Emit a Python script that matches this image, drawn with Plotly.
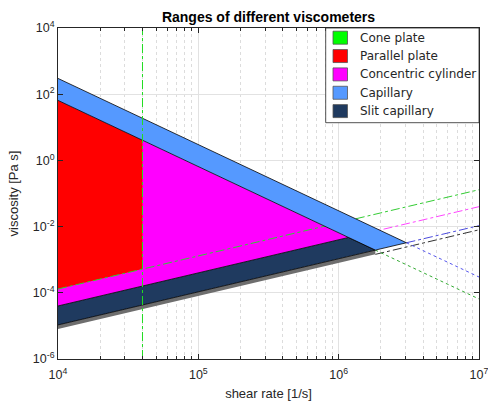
import plotly.graph_objects as go

# ---------------- data ----------------
categories = ["Cone plate", "Parallel plate", "Concentric cylinder", "Capillary", "Slit capillary"]
colors = ["#00ff00", "#ff0000", "#ff00ff", "#5599ff", "#1f3a5f"]

shear_rate_range = [1e4, 1e7]
viscosity_range = [1e-6, 1e4]

x_tick_exp = [4, 5, 6, 7]
y_tick_exp = [-6, -4, -2, 0, 2, 4]

# region outlines (shear rate [1/s], viscosity [Pa s])
capillary_rate = [1e4, 3.04e6, 1.825e6, 1e4]
capillary_visc = [300, 3.25e-3, 1.95e-3, 65]

cylinder_rate = [1e4, 1.176e6, 1e4]
cylinder_visc = [65, 4.7e-3, 4e-5]

parallel_rate = [1e4, 4e4, 4e4, 1e4]
parallel_visc = [65, 4.06, 5.2e-4, 1.3e-4]

slit_rate = [1e4, 1.176e6, 1.825e6, 1e4]
slit_visc = [4e-5, 4.7e-3, 1.95e-3, 1.07e-5]

slit_low_rate = [1e4, 1.825e6, 1.825e6, 1e4]
slit_low_visc = [1.07e-5, 1.95e-3, 1.45e-3, 8.0e-6]

cone_limit_rate = 4e4

# limit lines extended beyond the regions
parallel_low_rate = [1e4, 1e7]
parallel_low_visc = [1.3e-4, 0.13]
cylinder_low_rate = [1.176e6, 1e7]
cylinder_low_visc = [4.7e-3, 0.04]
capillary_low_rate = [3.04e6, 1e7]
capillary_low_visc = [3.25e-3, 0.0107]
slit_low_ext_rate = [1.825e6, 1e7]
slit_low_ext_visc = [1.45e-3, 8.0e-3]
cylinder_top_rate = [1.825e6, 1e7]
cylinder_top_visc = [1.95e-3, 6.5e-5]
capillary_top_rate = [3.04e6, 1e7]
capillary_top_visc = [3.25e-3, 3.0e-4]

# ---------------- figure ----------------
fig = go.Figure()

def region(x, y, color, edge=0):
    fig.add_trace(go.Scatter(x=x, y=y, mode="lines", fill="toself", fillcolor=color,
                             line=dict(color="black", width=edge), hoverinfo="skip",
                             showlegend=False))

def line(x, y, color, dash):
    fig.add_trace(go.Scatter(x=x, y=y, mode="lines", line=dict(color=color, width=1, dash=dash),
                             hoverinfo="skip", showlegend=False))

region(cylinder_rate, cylinder_visc, colors[2])
region(parallel_rate, parallel_visc, colors[1])
region(slit_low_rate, slit_low_visc, "#6e6e6e")
region(slit_rate, slit_visc, colors[4], edge=0.8)

line(parallel_low_rate, parallel_low_visc, "#33cc33", "dashdot")
line(cylinder_low_rate, cylinder_low_visc, "#ff44ff", "dashdot")
line(capillary_low_rate, capillary_low_visc, "#4b4bdd", "dashdot")
line(slit_low_ext_rate, slit_low_ext_visc, "#333333", "dashdot")
line(cylinder_top_rate, cylinder_top_visc, "#33aa33", "dot")
line(capillary_top_rate, capillary_top_visc, "#5555ee", "dot")

region(capillary_rate, capillary_visc, colors[3], edge=0.8)

fig.add_trace(go.Scatter(x=[cone_limit_rate, cone_limit_rate], y=viscosity_range, mode="lines",
                         line=dict(color="#22dd22", width=1, dash="dashdot"),
                         hoverinfo="skip", showlegend=False))

# ---------------- manual legend box ----------------
L, R, T, B = 58, 479, 28, 359
W, H = R - L, B - T
def px(x): return (x - L) / W
def py(y): return (B - y) / H

fig.add_shape(type="rect", xref="paper", yref="paper",
              x0=px(325.7), x1=1.0, y0=py(122.7), y1=1.0,
              fillcolor="white", line=dict(color="#262626", width=0.8))
for i, (name, c) in enumerate(zip(categories, colors)):
    yc = 37.7 + 18.35 * i
    fig.add_shape(type="rect", xref="paper", yref="paper",
                  x0=px(333), x1=px(347.5), y0=py(yc + 6.5), y1=py(yc - 6.5),
                  fillcolor=c, line=dict(color="#555555", width=0.8))
    fig.add_annotation(xref="paper", yref="paper", x=px(358), y=py(yc), text=name,
                       showarrow=False, xanchor="left", yanchor="middle",
                       font=dict(family="DejaVu Sans", size=12, color="#262626"))

axis_common = dict(
    type="log", showline=True, linecolor="#262626", linewidth=1, mirror="allticks",
    ticks="inside", ticklen=5, tickcolor="#262626", ticklabeloverflow="allow",
    tickfont=dict(family="Liberation Sans", size=12.5, color="#262626"),
    gridcolor="#e2e2e2", gridwidth=1, zeroline=False, automargin=False,
)

fig.update_xaxes(**axis_common, range=[4, 7], ticklabelstandoff=4,
                 tickvals=[10 ** e for e in x_tick_exp],
                 ticktext=[f"10<sup>{e}</sup>" for e in x_tick_exp],
                 minor=dict(dtick="D1", ticks="inside", ticklen=3, tickcolor="#262626",
                            showgrid=True, gridcolor="#dcdcdc", griddash="dot"),
                 title=dict(text="shear rate [1/s]", standoff=7,
                            font=dict(family="Liberation Sans", size=13, color="#262626")))
fig.update_yaxes(**axis_common, range=[-6, 4],
                 tickvals=[10.0 ** e for e in y_tick_exp],
                 ticktext=[f"10<sup>{e}</sup>" for e in y_tick_exp],
                 title=dict(text="viscosity [Pa s]", standoff=11,
                            font=dict(family="Liberation Sans", size=13, color="#262626")))

fig.update_layout(
    width=488, height=405,
    margin=dict(l=L, r=488 - R, t=T, b=405 - B),
    plot_bgcolor="white", paper_bgcolor="white",
    showlegend=False,
    title=dict(text="<b>Ranges of different viscometers</b>", x=(L + W / 2) / 488, xanchor="center",
               y=1 - 17 / 405, yanchor="middle",
               font=dict(family="Liberation Sans", size=14, color="black")),
)

fig.write_html("out.html", config={"displayModeBar": False},
               post_script="document.body.style.margin='0';document.body.style.padding='0';")
